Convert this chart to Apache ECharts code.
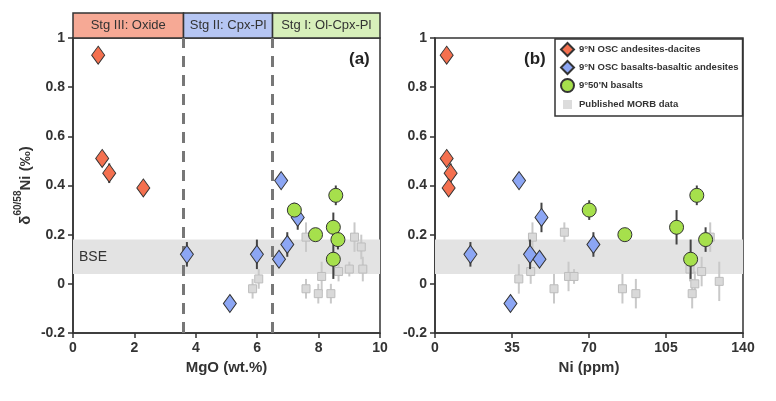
<!DOCTYPE html>
<html>
<head>
<meta charset="utf-8">
<script src="https://cdn.jsdelivr.net/npm/echarts@6/dist/echarts.min.js"></script>
<style>
html, body { margin: 0; padding: 0; background: #fff; }
#chart { width: 776px; height: 401px; }
</style>
</head>
<body>
<div id="chart"></div>
<script>
// ---------------- data ----------------
var seriesNames = ['9°N OSC andesites-dacites', '9°N OSC basalts-basaltic andesites', '9°50\'N basalts', 'Published MORB data'];

// panel (a): MgO (wt.%) vs d60/58Ni
var andMgO   = [0.82, 0.95, 1.18, 2.29];
var andNiA   = [0.93, 0.51, 0.45, 0.39];
var andErrA  = [0.02, 0.03, 0.04, 0.02];
var basMgO   = [3.71, 5.11, 5.99, 6.71, 6.98, 7.32, 6.78];
var basNiA   = [0.12, -0.08, 0.12, 0.10, 0.16, 0.27, 0.42];
var basErrA  = [0.05, 0.03, 0.06, 0.03, 0.05, 0.05, 0.02];
var n950MgO  = [7.21, 7.90, 8.56, 8.48, 8.63, 8.48];
var n950NiA  = [0.30, 0.20, 0.36, 0.23, 0.18, 0.10];
var n950ErrA = [0.03, 0.02, 0.04, 0.06, 0.04, 0.08];
var morbMgO  = [5.85, 6.05, 7.59, 7.59, 7.99, 8.10, 8.40, 8.65, 9.00, 9.17, 9.39, 9.44];
var morbNiA  = [-0.02, 0.02, 0.19, -0.02, -0.04, 0.03, -0.04, 0.05, 0.06, 0.19, 0.15, 0.06];
var morbErrA = [0.04, 0.04, 0.06, 0.04, 0.04, 0.06, 0.04, 0.04, 0.03, 0.06, 0.05, 0.05];

// panel (b): Ni (ppm) vs d60/58Ni
var andNi    = [5.3, 5.3, 7.1, 6.2];
var andNiB   = [0.93, 0.51, 0.45, 0.39];
var andErrB  = [0.02, 0.03, 0.04, 0.02];
var basNi    = [38.2, 16.1, 34.3, 43.2, 47.5, 48.4, 72.0];
var basNiB   = [0.42, 0.12, -0.08, 0.12, 0.10, 0.27, 0.16];
var basErrB  = [0.02, 0.05, 0.03, 0.06, 0.03, 0.06, 0.05];
var n950Ni   = [70.1, 86.3, 109.8, 119.0, 116.2, 123.0];
var n950NiB  = [0.30, 0.20, 0.23, 0.36, 0.10, 0.18];
var n950ErrB = [0.04, 0.02, 0.07, 0.04, 0.08, 0.05];
var morbNi   = [38.1, 43.5, 44.3, 54.1, 58.8, 60.7, 63.2, 85.2, 91.3, 115.9, 118.1, 116.9, 121.2, 125.1, 129.2];
var morbNiB  = [0.02, 0.05, 0.19, -0.02, 0.21, 0.03, 0.03, -0.02, -0.04, 0.06, 0.00, -0.04, 0.05, 0.19, 0.01];
var morbErrB = [0.06, 0.05, 0.06, 0.06, 0.04, 0.06, 0.03, 0.06, 0.06, 0.05, 0.05, 0.06, 0.06, 0.06, 0.08];

// BSE range and fractional crystallisation stages
var bseRange    = [0.04, 0.18];
var stageEdges  = [0, 3.6, 6.5, 10];
var stageLabels = ['Stg III: Oxide', 'Stg II: Cpx-Pl', 'Stg I: Ol-Cpx-Pl'];

// ---------------- chart ----------------
var FONT = '"Liberation Sans", Arial, Helvetica, sans-serif';
var colors = ['#f4704f', '#8ca6f4', '#a6e04c', '#d9d9d9'];
var stageColors = ['#f6a995', '#b6c6f3', '#d7efba'];

function zip(xs, ys) {
	return xs.map(function(x, i) { return [x, ys[i]]; });
}

function errSeries(xs, ys, es, idx, color, z) {
	return {
		type: 'custom',
		xAxisIndex: idx,
		yAxisIndex: idx,
		silent: true,
		z: z,
		data: xs.map(function(x, i) { return [x, ys[i] - es[i], ys[i] + es[i]]; }),
		renderItem: function(params, api) {
			var lo = api.coord([api.value(0), api.value(1)]);
			var hi = api.coord([api.value(0), api.value(2)]);
			return {
				type: 'line',
				shape: { x1: lo[0], y1: lo[1], x2: hi[0], y2: hi[1] },
				style: { stroke: color, lineWidth: 2 }
			};
		}
	};
}

function scatter(name, xs, ys, idx, symbol, size, color, border, z) {
	return {
		name: name,
		type: 'scatter',
		xAxisIndex: idx,
		yAxisIndex: idx,
		symbol: symbol,
		symbolSize: size,
		z: z,
		itemStyle: { color: color, borderColor: border, borderWidth: 1, opacity: 1 },
		data: zip(xs, ys)
	};
}

function panelSeries(idx, d) {
	var list = [];
	list.push({
		type: 'scatter',
		xAxisIndex: idx,
		yAxisIndex: idx,
		data: [],
		silent: true,
		z: 1,
		markArea: {
			silent: true,
			itemStyle: { color: '#e3e3e3' },
			label: {
				show: idx === 0,
				position: 'insideLeft',
				distance: 6,
				color: '#333',
				fontSize: 14,
				fontFamily: FONT
			},
			data: [[{ yAxis: bseRange[0], name: 'BSE' }, { yAxis: bseRange[1] }]]
		},
		markLine: idx === 0 ? {
			silent: true,
			symbol: 'none',
			label: { show: false },
			lineStyle: { color: '#777', width: 3, type: [11, 8] },
			data: [{ xAxis: stageEdges[1] }, { xAxis: stageEdges[2] }]
		} : undefined
	});
	list.push(errSeries(d.morb[0], d.morb[1], d.morb[2], idx, '#c9c9c9', 2));
	list.push(scatter(seriesNames[3], d.morb[0], d.morb[1], idx, 'rect', 8, colors[3], '#bdbdbd', 3));
	list.push(errSeries(d.and[0], d.and[1], d.and[2], idx, '#444', 4));
	list.push(errSeries(d.bas[0], d.bas[1], d.bas[2], idx, '#444', 4));
	list.push(errSeries(d.n950[0], d.n950[1], d.n950[2], idx, '#444', 4));
	list.push(scatter(seriesNames[0], d.and[0], d.and[1], idx, 'diamond', [13, 18], colors[0], '#333', 5));
	list.push(scatter(seriesNames[1], d.bas[0], d.bas[1], idx, 'diamond', [13, 18], colors[1], '#333', 5));
	list.push(scatter(seriesNames[2], d.n950[0], d.n950[1], idx, 'circle', 14, colors[2], '#333', 5));
	return list;
}

var axisText = { color: '#333', fontSize: 14, fontWeight: 'bold', fontFamily: FONT };

function xAx(idx, max, interval, name) {
	return {
		gridIndex: idx, type: 'value', min: 0, max: max, interval: interval,
		name: name, nameLocation: 'middle', nameGap: 27,
		nameTextStyle: { color: '#333', fontSize: 15, fontWeight: 'bold', fontFamily: FONT },
		axisLine: { onZero: false, lineStyle: { color: '#333', width: 1.5 } },
		axisTick: { length: 5, lineStyle: { color: '#333', width: 1.5 } },
		axisLabel: axisText,
		splitLine: { show: false }
	};
}

function yAx(idx, withName) {
	return {
		gridIndex: idx, type: 'value', min: -0.2, max: 1, interval: 0.2,
		name: withName ? '{d|δ}{s|60/58}{d|Ni (‰)}' : '',
		nameLocation: 'middle', nameGap: 40, nameRotate: 90,
		nameTextStyle: {
			rich: {
				d: { color: '#333', fontSize: 15, fontWeight: 'bold', fontFamily: FONT, lineHeight: 20, verticalAlign: 'bottom' },
				s: { color: '#333', fontSize: 10, fontWeight: 'bold', fontFamily: FONT, lineHeight: 20, verticalAlign: 'top' }
			}
		},
		axisLine: { onZero: false, lineStyle: { color: '#333', width: 1.5 } },
		axisTick: { length: 5, lineStyle: { color: '#333', width: 1.5 } },
		axisLabel: axisText,
		splitLine: { show: false }
	};
}

var chart = echarts.init(document.getElementById('chart'));

var series = []
	.concat(panelSeries(0, {
		and: [andMgO, andNiA, andErrA],
		bas: [basMgO, basNiA, basErrA],
		n950: [n950MgO, n950NiA, n950ErrA],
		morb: [morbMgO, morbNiA, morbErrA]
	}))
	.concat(panelSeries(1, {
		and: [andNi, andNiB, andErrB],
		bas: [basNi, basNiB, basErrB],
		n950: [n950Ni, n950NiB, n950ErrB],
		morb: [morbNi, morbNiB, morbErrB]
	}));

// stage header strip above panel (a)
series.push({
	type: 'custom',
	xAxisIndex: 2,
	yAxisIndex: 2,
	silent: true,
	data: stageLabels.map(function(lab, i) { return [stageEdges[i], stageEdges[i + 1], i]; }),
	renderItem: function(params, api) {
		var a = api.coord([api.value(0), 1]);
		var b = api.coord([api.value(1), 0]);
		var i = api.value(2);
		return {
			type: 'group',
			children: [{
				type: 'rect',
				shape: { x: a[0], y: a[1], width: b[0] - a[0], height: b[1] - a[1] },
				style: { fill: stageColors[i], stroke: '#333', lineWidth: 1.5 }
			}, {
				type: 'text',
				style: {
					text: stageLabels[i],
					x: (a[0] + b[0]) / 2, y: (a[1] + b[1]) / 2,
					align: 'center', verticalAlign: 'middle',
					fill: '#333', fontSize: 13, fontFamily: FONT
				}
			}]
		};
	}
});

chart.setOption({
	backgroundColor: '#fff',
	animation: false,
	title: [
		{ text: '(a)', left: 344, top: 46, textStyle: { color: '#222', fontSize: 17, fontWeight: 'bold', fontFamily: FONT } },
		{ text: '(b)', left: 519, top: 46, textStyle: { color: '#222', fontSize: 17, fontWeight: 'bold', fontFamily: FONT } }
	],
	legend: {
		orient: 'vertical',
		left: 555,
		top: 39,
		padding: [3, 4, 3, 4],
		itemGap: 3,
		itemWidth: 13,
		itemHeight: 13,
		borderColor: '#333',
		borderWidth: 1.5,
		backgroundColor: '#fff',
		textStyle: { color: '#333', fontSize: 9.5, fontWeight: 'bold', fontFamily: FONT, lineHeight: 13 },
		data: [
			{ name: seriesNames[0], icon: 'diamond' },
			{ name: seriesNames[1], icon: 'diamond' },
			{ name: seriesNames[2], icon: 'circle' },
			{ name: seriesNames[3], icon: 'rect', itemStyle: { color: '#dcdcdc', borderColor: '#fff', borderWidth: 4 } }
		]
	},
	grid: [
		{ left: 73, top: 38, width: 307, height: 295, show: true, borderColor: '#333', borderWidth: 1.5 },
		{ left: 435, top: 38, width: 308, height: 295, show: true, borderColor: '#333', borderWidth: 1.5 },
		{ left: 73, top: 13, width: 307, height: 25 }
	],
	xAxis: [
		xAx(0, 10, 2, 'MgO (wt.%)'),
		xAx(1, 140, 35, 'Ni (ppm)'),
		{ gridIndex: 2, type: 'value', min: 0, max: 10, show: false }
	],
	yAxis: [
		yAx(0, true),
		yAx(1, false),
		{ gridIndex: 2, type: 'value', min: 0, max: 1, show: false }
	],
	series: series
});
</script>
</body>
</html>
